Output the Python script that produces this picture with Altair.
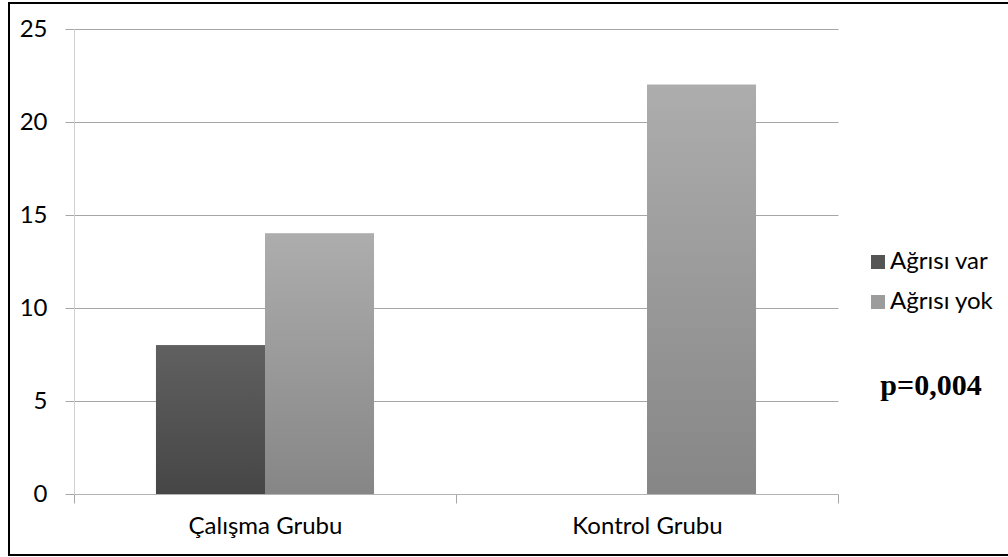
import altair as alt
import pandas as pd

groups = ["Çalışma Grubu", "Kontrol Grubu"]
series = ["Ağrısı var", "Ağrısı yok"]
var_values = [8, 0]
yok_values = [14, 22]
y_ticks = [0, 5, 10, 15, 20, 25]
p_label = "p=0,004"

rows = []
for g, v in zip(groups, var_values):
    rows.append({"group": g, "series": series[0], "value": v})
for g, v in zip(groups, yok_values):
    rows.append({"group": g, "series": series[1], "value": v})
df = pd.DataFrame(rows)

FONT = "Lato"

base = alt.Chart(df).encode(
    x=alt.X(
        "group:N",
        sort=groups,
        scale=alt.Scale(domain=groups, paddingInner=0, paddingOuter=0),
        axis=alt.Axis(
            title=None, labelAngle=0, labelFont=FONT, labelFontSize=24,
            labelColor="black", tickBand="extent", tickSize=9,
            tickColor="#a6a6a6", domainColor="#b3b3b3", labelPadding=11,
            grid=False,
        ),
    ),
    xOffset=alt.XOffset(
        "series:N",
        sort=series,
        scale=alt.Scale(domain=series, paddingOuter=0.752, paddingInner=0),
    ),
    y=alt.Y(
        "value:Q",
        scale=alt.Scale(domain=[0, 25], nice=False),
        axis=alt.Axis(
            title=None, values=y_ticks, labelFont=FONT, labelFontSize=24,
            labelColor="black", tickSize=9, tickColor="#a6a6a6",
            gridColor="#a6a6a6", domainColor="#d0d0d0", labelPadding=18,
        ),
    ),
)

legend_bars = base.mark_bar().encode(
    color=alt.Color(
        "series:N",
        scale=alt.Scale(domain=series, range=["#555555", "#9c9c9c"]),
        legend=alt.Legend(
            title=None, orient="none", legendX=792, legendY=221,
            symbolType="square", symbolSize=196, symbolStrokeWidth=0,
            labelFont=FONT, labelFontSize=24, labelColor="black",
            labelOffset=0, rowPadding=16, symbolOpacity=1,
        ),
    )
)

dark = base.transform_filter(alt.datum.series == series[0]).mark_bar(
    fill=alt.Gradient(
        gradient="linear",
        stops=[alt.GradientStop(offset=0, color="#606060"),
               alt.GradientStop(offset=1, color="#464646")],
        x1=0, x2=0, y1=0, y2=1,
    )
)

light = base.transform_filter(alt.datum.series == series[1]).mark_bar(
    fill=alt.Gradient(
        gradient="linear",
        stops=[alt.GradientStop(offset=0, color="#adadad"),
               alt.GradientStop(offset=1, color="#868686")],
        x1=0, x2=0, y1=0, y2=1,
    )
)

ptext = alt.Chart(pd.DataFrame({"t": [p_label]})).mark_text(
    font="Liberation Serif", fontWeight="bold", fontSize=30,
    align="center", baseline="alphabetic", color="black",
).encode(text="t:N", x=alt.value(857), y=alt.value(366))

border = alt.Chart(pd.DataFrame({"a": [0]})).mark_rect(
    fillOpacity=0, stroke="black", strokeWidth=2
).encode(x=alt.value(-65), x2=alt.value(945), y=alt.value(-26), y2=alt.value(526))

chart = alt.layer(legend_bars, dark, light, ptext, border).properties(
    width=764, height=465,
    padding={"left": 74, "top": 29, "right": 170, "bottom": 63},
    autosize="none",
    background="white",
).configure_view(stroke=None)

chart.save("out.html", embed_options={"renderer": "svg", "actions": False})
